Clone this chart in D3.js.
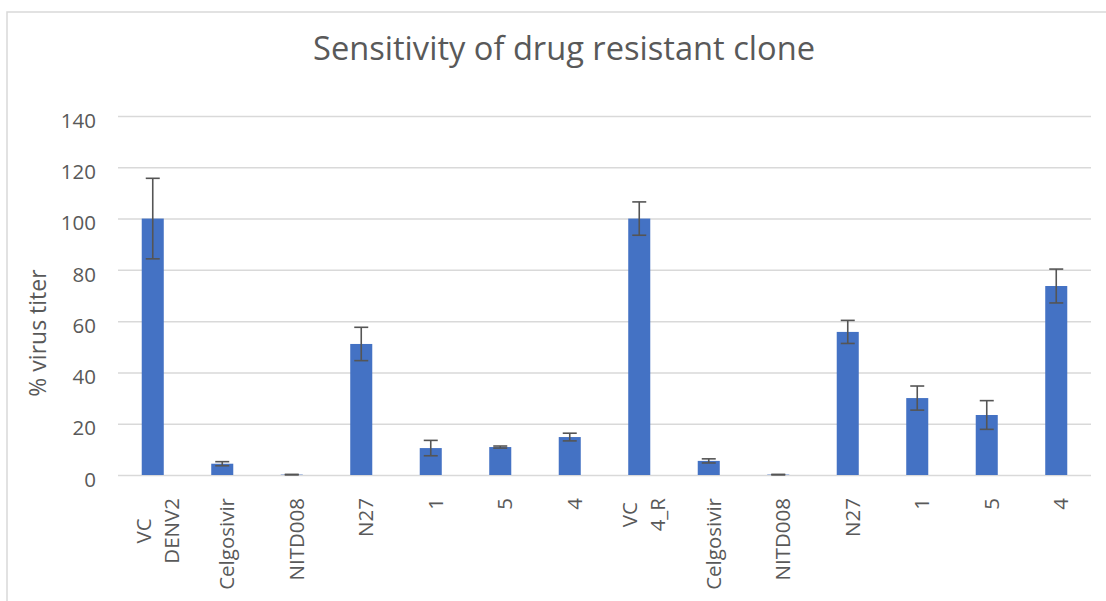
<!DOCTYPE html>
<html>
<head>
<meta charset="utf-8">
<script src="https://cdn.jsdelivr.net/npm/d3@7"></script>
<style>
  html, body { margin: 0; padding: 0; background: #fff; }
  svg { display: block; font-family: "Open Sans", "Liberation Sans", sans-serif; }
</style>
</head>
<body>
<svg id="chart" width="1106" height="601"></svg>
<script>
// ---- data ----
const title = "Sensitivity of drug resistant clone";
const yAxisTitle = "% virus titer";
const categories = ["VC\nDENV2", "Celgosivir", "NITD008", "N27", "1", "5", "4",
                    "VC\n4_R", "Celgosivir", "NITD008", "N27", "1", "5", "4"];
const values = [100, 4.4, 0.15, 51.1, 10.5, 10.9, 14.8,
                100, 5.5, 0.15, 55.8, 30.0, 23.4, 73.7];
const errors = [15.7, 0.8, 0.1, 6.5, 3.0, 0.4, 1.5,
                6.5, 0.8, 0.1, 4.5, 4.7, 5.6, 6.6];
const yTicks = [0, 20, 40, 60, 80, 100, 120, 140];

// ---- layout ----
const svg = d3.select("#chart");
const W = 1106, H = 601;
const plot = { left: 118, right: 1091, top: 116, bottom: 475 };
const textColor = "#595959";
const gridColor = "#d9d9d9";
const barColor = "#4472c4";

// chart border (cropped at right/bottom)
svg.append("rect")
  .attr("x", 7).attr("y", 12)
  .attr("width", W + 20).attr("height", H + 20)
  .attr("fill", "#fff")
  .attr("stroke", gridColor).attr("stroke-width", 1.5);

const x = d3.scaleBand()
  .domain(d3.range(categories.length))
  .range([plot.left, plot.right])
  .paddingInner(0.683)
  .paddingOuter(0.683 / 2);

const y = d3.scaleLinear()
  .domain([0, 140])
  .range([plot.bottom, plot.top]);

// title
svg.append("text")
  .attr("x", 564).attr("y", 60)
  .attr("text-anchor", "middle")
  .attr("font-size", 32)
  .attr("fill", textColor)
  .attr("textLength", 502)
  .attr("lengthAdjust", "spacingAndGlyphs")
  .text(title);

// gridlines + y axis labels via d3 axis
const yAxis = d3.axisLeft(y)
  .tickValues(yTicks)
  .tickSize(-(plot.right - plot.left))
  .tickPadding(22)
  .tickFormat(d3.format("d"));

const gy = svg.append("g")
  .attr("transform", `translate(${plot.left},0)`)
  .call(yAxis);
gy.select(".domain").remove();
gy.selectAll(".tick line")
  .attr("stroke", gridColor)
  .attr("stroke-width", 1.5);
gy.selectAll(".tick text")
  .attr("fill", textColor)
  .attr("font-size", 20.5)
  .attr("dy", "0.55em")
  .attr("font-family", "Open Sans, sans-serif");

// y axis title
svg.append("text")
  .attr("transform", "translate(46,333) rotate(-90)")
  .attr("text-anchor", "middle")
  .attr("font-size", 23)
  .attr("fill", textColor)
  .text(yAxisTitle);

// bars
svg.append("g").selectAll("rect")
  .data(values)
  .join("rect")
  .attr("x", (d, i) => x(i))
  .attr("width", x.bandwidth())
  .attr("y", d => y(d))
  .attr("height", d => y(0) - y(d))
  .attr("fill", barColor);

// error bars
const eg = svg.append("g")
  .attr("stroke", "#555555")
  .attr("stroke-width", 1.6)
  .attr("fill", "none");
values.forEach((v, i) => {
  const cx = x(i) + x.bandwidth() / 2;
  const e = errors[i];
  const cap = 7;
  eg.append("line").attr("x1", cx).attr("x2", cx).attr("y1", y(v + e)).attr("y2", y(Math.max(0, v - e)));
  eg.append("line").attr("x1", cx - cap).attr("x2", cx + cap).attr("y1", y(v + e)).attr("y2", y(v + e));
  eg.append("line").attr("x1", cx - cap).attr("x2", cx + cap).attr("y1", y(Math.max(0, v - e))).attr("y2", y(Math.max(0, v - e)));
});

// x labels (rotated, multi-line centered)
const labelTop = 498;
const lineGap = 28;
categories.forEach((c, i) => {
  const lines = c.split("\n");
  const cx = x(i) + x.bandwidth() / 2 + 5;
  const g = svg.append("g");
  const texts = lines.map((ln, k) => {
    return g.append("text")
      .attr("font-size", 20.5)
      .attr("fill", textColor)
      .attr("text-anchor", "middle")
      .attr("dy", "0.35em")
      .text(ln);
  });
  const maxW = d3.max(texts, t => t.node().getComputedTextLength());
  texts.forEach((t, k) => {
    const off = (k - (lines.length - 1) / 2) * lineGap;
    t.attr("x", -maxW / 2).attr("y", off);
  });
  g.attr("transform", `translate(${cx},${labelTop}) rotate(-90)`);
});
</script>
</body>
</html>
